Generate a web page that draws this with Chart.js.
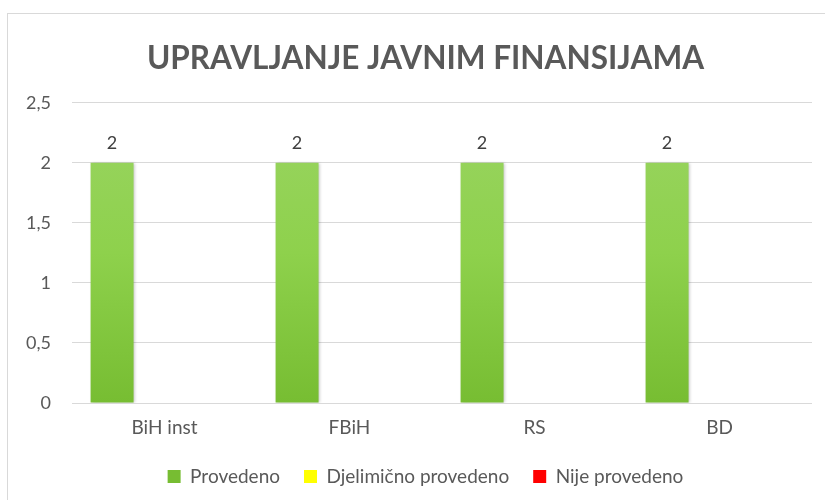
<!DOCTYPE html>
<html>
<head>
<meta charset="utf-8">
<script src="https://cdn.jsdelivr.net/npm/chart.js@4"></script>
<style>
  html, body { margin: 0; padding: 0; background: #fff; overflow: hidden; }
  #view { width: 825px; height: 500px; overflow: hidden; }
  /* the original chart object is wider than the picture, so the canvas is too */
  #wrap { position: relative; width: 851px; height: 500px; }
</style>
</head>
<body>
<div id="view"><div id="wrap"><canvas id="chart"></canvas></div></div>
<script>
// chart data
const categories = ['BiH inst', 'FBiH', 'RS', 'BD'];
const provedeno = [2, 2, 2, 2];
const djelimicno = [0, 0, 0, 0];
const nijeProvedeno = [0, 0, 0, 0];
const seriesNames = ['Provedeno', 'Djelimično provedeno', 'Nije provedeno'];
const yTicks = [0, 0.5, 1, 1.5, 2, 2.5];
const titleText = 'UPRAVLJANJE JAVNIM FINANSIJAMA';

const FONT = 'Lato, "Open Sans", sans-serif';
const GREY = '#595959';

// green bars get a vertical gradient like the Excel original
function greenFill(context) {
  const chart = context.chart;
  const area = chart.chartArea;
  if (!area || context.type !== 'data') return '#7dc13a';
  const g = chart.ctx.createLinearGradient(0, area.top, 0, area.bottom);
  g.addColorStop(0, '#9ad463');
  g.addColorStop(0.5, '#8ed14c');
  g.addColorStop(1, '#77bd32');
  return g;
}

// outer frame of the chart object
const framePlugin = {
  id: 'frame',
  beforeDraw(chart) {
    const ctx = chart.ctx;
    ctx.save();
    ctx.strokeStyle = '#d9d9d9';
    ctx.lineWidth = 1;
    ctx.strokeRect(7.5, 13.5, 900, 600);
    ctx.restore();
  }
};

// soft shadow on the bars
const shadowPlugin = {
  id: 'barShadow',
  beforeDatasetDraw(chart) {
    const ctx = chart.ctx;
    ctx.save();
    ctx.shadowColor = 'rgba(0,0,0,0.25)';
    ctx.shadowBlur = 3;
    ctx.shadowOffsetX = 1;
  },
  afterDatasetDraw(chart) {
    chart.ctx.restore();
  }
};

// value labels above the bars (only non-zero values)
const labelPlugin = {
  id: 'valueLabels',
  afterDatasetsDraw(chart) {
    const ctx = chart.ctx;
    ctx.save();
    ctx.font = '18px ' + FONT;
    ctx.fillStyle = '#404040';
    ctx.textAlign = 'center';
    ctx.textBaseline = 'middle';
    chart.data.datasets.forEach((ds, i) => {
      const meta = chart.getDatasetMeta(i);
      meta.data.forEach((bar, j) => {
        const v = ds.data[j];
        if (!v) return;
        ctx.fillText(String(v).replace('.', ','), bar.x, bar.y - 20);
      });
    });
    ctx.restore();
  }
};

const ctx = document.getElementById('chart').getContext('2d');
new Chart(ctx, {
  type: 'bar',
  data: {
    labels: categories,
    datasets: [
      { label: seriesNames[0], data: provedeno, backgroundColor: greenFill },
      { label: seriesNames[1], data: djelimicno, backgroundColor: '#ffff00' },
      { label: seriesNames[2], data: nijeProvedeno, backgroundColor: '#ff0000' }
    ]
  },
  options: {
    responsive: true,
    maintainAspectRatio: false,
    animation: false,
    categoryPercentage: 0.85,
    barPercentage: 0.82,
    layout: { padding: { left: 0, right: 0, top: 0, bottom: 4 } },
    scales: {
      x: {
        afterFit(scale) { scale.height = 40; },
        grid: { display: false },
        border: { display: false },
        ticks: { color: GREY, font: { family: FONT, size: 19 }, padding: 5 }
      },
      y: {
        min: 0,
        max: 2.5,
        afterBuildTicks(scale) {
          scale.ticks = yTicks.map(v => ({ value: v }));
        },
        afterFit(scale) { scale.width = 72; },
        grid: { color: '#d9d9d9', drawTicks: false },
        border: { display: false },
        ticks: {
          color: GREY,
          font: { family: FONT, size: 18 },
          padding: 21,
          callback: v => String(v).replace('.', ',')
        }
      },
      // empty right-hand margin, keeps title and legend centred on the whole object
      yRight: {
        position: 'right',
        afterFit(scale) { scale.width = 39; },
        grid: { display: false },
        border: { display: false },
        ticks: { display: false }
      }
    },
    plugins: {
      title: {
        display: true,
        text: titleText,
        color: GREY,
        font: { family: FONT, size: 31.5, weight: 'bold' },
        padding: { top: 40, bottom: 25 }
      },
      legend: {
        position: 'bottom',
        labels: {
          color: GREY,
          font: { family: FONT, size: 19 },
          boxWidth: 13,
          boxHeight: 13,
          padding: 24
        }
      },
      tooltip: { enabled: false }
    }
  },
  plugins: [framePlugin, shadowPlugin, labelPlugin]
});
</script>
</body>
</html>
